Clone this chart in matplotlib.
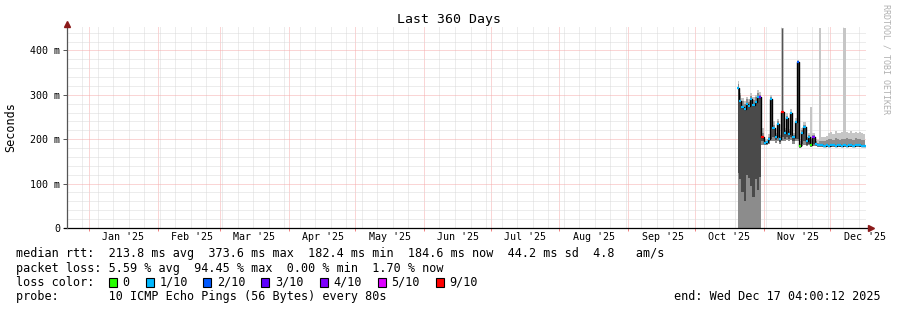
import matplotlib as mpl
mpl.use('Agg')
import matplotlib.pyplot as plt
import matplotlib.dates as mdates
import matplotlib.transforms as mtransforms
from matplotlib.patches import Rectangle
import pandas as pd

# time window of the graph
graph_start = '2024-12-22 04:00'
graph_end = '2025-12-17 04:00'

# one sample per day (ms)
sample_start = '2025-10-20 12:00'
median_ms = [315, 285, 272, 268, 280, 274, 290, 276, 284, 295,
             296, 206, 192, 193, 200, 291, 225, 205, 235, 200,
             262, 215, 248, 212, 258, 205, 238, 373, 185, 215,
             228, 195, 205, 188, 205, 190, 186, 187, 186, 185,
             186, 185, 186, 186, 185, 187, 186, 185, 186, 185,
             187, 186, 185, 186, 188, 186, 185, 184.6]
loss = [1, 1, 1, 1, 1, 1, 1, 1, 1, 1,
        3, 9, 1, 1, 1, 1, 1, 1, 1, 1,
        9, 1, 1, 1, 1, 1, 1, 2, 0, 1,
        1, 1, 1, 0, 4, 1, 1, 1, 1, 1,
        1, 1, 1, 1, 1, 1, 1, 1, 1, 1,
        1, 1, 1, 1, 1, 1, 1, 1]
smoke_min = [0, 0, 0, 0, 0, 0, 0, 0, 0, 0,
             0, 186, 186, 187, 190, 195, 195, 192, 195, 190,
             195, 195, 198, 195, 198, 190, 195, 195, 181, 185,
             188, 185, 186, 182, 185, 184, 183, 183, 183, 182,
             183, 182, 182, 183, 182, 183, 182, 182, 183, 182,
             183, 182, 182, 183, 183, 182, 182, 182]
smoke_max = [332, 305, 292, 286, 296, 290, 305, 294, 300, 310,
             306, 226, 200, 201, 212, 300, 240, 215, 245, 210,
             450, 225, 258, 222, 268, 215, 248, 378, 195, 225,
             238, 205, 215, 272, 215, 200, 198, 450, 205, 204,
             208, 214, 216, 212, 218, 215, 213, 217, 450, 216,
             214, 219, 215, 217, 214, 216, 213, 212]
smoke_mid_hi = [325, 300, 285, 280, 290, 284, 298, 288, 294, 304,
                300, 215, 196, 197, 206, 296, 232, 210, 240, 205,
                230, 220, 252, 218, 262, 210, 242, 376, 190, 220,
                232, 200, 210, 200, 210, 195, 192, 195, 195, 196,
                198, 200, 201, 199, 202, 200, 199, 201, 200, 202,
                200, 201, 199, 202, 200, 201, 199, 198]
smoke_core_lo = [125, 110, 80, 60, 120, 112, 95, 70, 110, 85,
                 115, 195, 189, 190, 195, 200, 205, 198, 205, 194,
                 205, 200, 205, 200, 205, 196, 200, 200, 183, 190,
                 195, 188, 190, 184, 190, 186, 184, 184, 184, 183,
                 184, 183, 183, 184, 183, 184, 183, 183, 184, 183,
                 184, 183, 183, 184, 184, 183, 183, 183]

loss_labels = ['0', '1/10', '2/10', '3/10', '4/10', '5/10', '9/10']
loss_values = [0, 1, 2, 3, 4, 5, 9]
loss_colors = ['#26ff00', '#00b8ff', '#0059ff', '#5e00ff', '#7e00ff', '#dd00ff', '#ff0000']

y_ticks = [0, 100, 200, 300, 400]
y_tick_labels = ['0', '100 m', '200 m', '300 m', '400 m']
month_labels = ["Jan '25", "Feb '25", "Mar '25", "Apr '25", "May '25", "Jun '25",
                "Jul '25", "Aug '25", "Sep '25", "Oct '25", "Nov '25", "Dec '25"]

rtt_line = "median rtt:  213.8 ms avg  373.6 ms max  182.4 ms min  184.6 ms now  44.2 ms sd  4.8   am/s"
loss_line = "packet loss: 5.59 % avg  94.45 % max  0.00 % min  1.70 % now"
probe_line = "probe:       10 ICMP Echo Pings (56 Bytes) every 80s"
end_line = "end: Wed Dec 17 04:00:12 2025"

MONO = 'DejaVu Sans Mono'
W, H = 897, 310

fig = plt.figure(figsize=(W / 100, H / 100), dpi=100)
fig.patch.set_facecolor('white')
ax = fig.add_axes([67 / W, 82 / H, 799 / W, 202 / H])

t = mdates.date2num(pd.date_range(sample_start, periods=len(median_ms), freq='D').to_pydatetime())
x0 = mdates.date2num(pd.Timestamp(graph_start).to_pydatetime())
x1 = mdates.date2num(pd.Timestamp(graph_end).to_pydatetime())

# smoke
ax.fill_between(t, smoke_min, smoke_max, step='mid', color='#c6c6c6', lw=0, zorder=2)
ax.fill_between(t, smoke_min, smoke_mid_hi, step='mid', color='#8c8c8c', lw=0, zorder=3)
ax.fill_between(t, smoke_core_lo, median_ms, step='mid', color='#4a4a4a', lw=0, zorder=4)
# the one dark max spike
ax.vlines(t[20], median_ms[20], smoke_max[20], color='#555555', lw=0.8, zorder=4)

# median line, coloured by loss
ax.step(t, median_ms, where='mid', color='black', lw=1.0, zorder=5)
col_of = dict(zip(loss_values, loss_colors))
ax.hlines(median_ms, t - 0.5, t + 0.5, colors=[col_of[v] for v in loss], lw=1.6, zorder=6)

ax.set_xlim(x0, x1)
ax.set_ylim(0, 455)

# grid
month_starts = mdates.date2num(pd.date_range('2025-01-01', '2025-12-01', freq='MS').to_pydatetime())
weeks = mdates.date2num(pd.date_range('2024-12-29', graph_end, freq='7D').to_pydatetime())
ax.set_xticks(month_starts)
ax.set_xticks(weeks, minor=True)
ax.set_xticklabels([])
ax.set_yticks(y_ticks)
ax.set_yticklabels(y_tick_labels, fontfamily=MONO, fontsize=7.2)
ax.set_yticks([v for v in range(20, 455, 20) if v % 100], minor=True)
ax.set_axisbelow(True)
dot = (0, (1, 1))
ax.grid(which='minor', color='#dadada', ls=dot, lw=0.72)
ax.grid(which='major', color='#f6acac', ls=dot, lw=0.72)
ax.tick_params(axis='x', which='major', length=2.5, color='#f08080', width=0.7)
ax.tick_params(axis='x', which='minor', length=0)
ax.tick_params(axis='y', which='major', length=3, color='#555555', width=0.7, pad=2)
ax.tick_params(axis='y', which='minor', length=0)

for s in ax.spines.values():
    s.set_visible(False)
ax.plot([-0.004, 1.004], [0, 0], transform=ax.transAxes, color='black', lw=0.9, clip_on=False, zorder=7)
ax.plot([0, 0], [0, 1.01], transform=ax.transAxes, color='#555555', lw=0.9, clip_on=False, zorder=7)
ax.plot([1.006], [0], marker='>', ms=4, color='#8b1a1a', transform=ax.transAxes, clip_on=False, zorder=8)
ax.plot([0], [1.012], marker='^', ms=4, color='#8b1a1a', transform=ax.transAxes, clip_on=False, zorder=8)

# month labels centred in the month
blend = mtransforms.blended_transform_factory(ax.transData, fig.transFigure)
mids = month_starts + 15.5
for m, lab in zip(mids, month_labels):
    ax.text(m, 1 - 237.5 / H, lab, transform=blend, ha='center', va='center',
            fontfamily=MONO, fontsize=7.2, clip_on=False)

fig.text(0.5, 1 - 19 / H, 'Last 360 Days', ha='center', va='center', fontfamily=MONO, fontsize=9.5)
fig.text(11 / W, 1 - 127 / H, 'Seconds', rotation=90, ha='center', va='center', fontfamily=MONO, fontsize=8.5)
fig.text(886 / W, 1 - 59 / H, 'RRDTOOL / TOBI OETIKER', rotation=-90, ha='center', va='center',
         fontfamily=MONO, fontsize=6, color='#b0b0b0')

# legend
rows = [254, 268.3, 282.3, 296.7]
fs = 8.5
fig.text(16 / W, 1 - rows[0] / H, rtt_line, ha='left', va='center', fontfamily=MONO, fontsize=fs)
fig.text(16 / W, 1 - rows[1] / H, loss_line, ha='left', va='center', fontfamily=MONO, fontsize=fs)
fig.text(16 / W, 1 - rows[2] / H, 'loss color:', ha='left', va='center', fontfamily=MONO, fontsize=fs)
box_x = [108.5, 145.5, 203, 261, 319.5, 377.5, 435.5]
for bx, lab, c in zip(box_x, loss_labels, loss_colors):
    fig.add_artist(Rectangle((bx / W, 1 - (rows[2] + 4.5) / H), 8 / W, 9 / H,
                             transform=fig.transFigure, facecolor=c, edgecolor='black', lw=0.8))
    fig.text((bx + 14) / W, 1 - rows[2] / H, lab, ha='left', va='center', fontfamily=MONO, fontsize=fs)
fig.text(16 / W, 1 - rows[3] / H, probe_line, ha='left', va='center', fontfamily=MONO, fontsize=fs)
fig.text(881 / W, 1 - rows[3] / H, end_line, ha='right', va='center', fontfamily=MONO, fontsize=fs)

fig.savefig('out.png', dpi=100, facecolor='white')
